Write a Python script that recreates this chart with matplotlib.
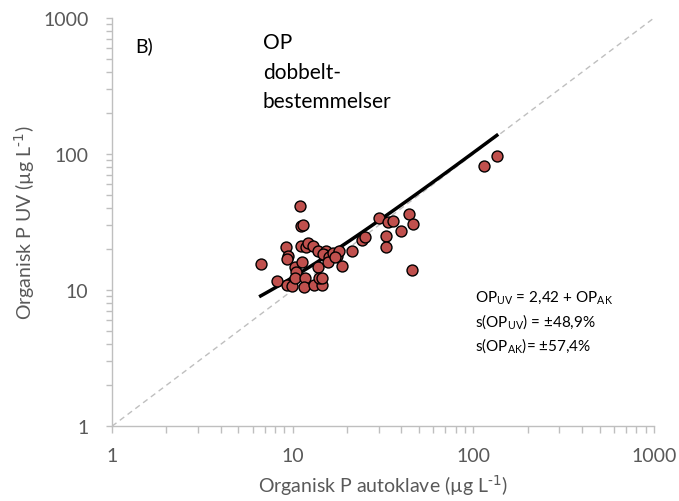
import matplotlib
matplotlib.use("Agg")
import matplotlib.pyplot as plt
from matplotlib.ticker import LogLocator, NullFormatter, FixedLocator
import numpy as np

plt.rcParams['font.family'] = ['Lato', 'DejaVu Sans']

# dobbeltbestemmelser: organisk P, autoklave (x) mot UV (y), µg/L
op_ak = [10.97, 11.1, 11.45, 9.15, 9.46, 9.3, 6.65, 8.22, 9.26, 9.87,
         10.34, 10.43, 10.34, 11.3, 11.7, 11.6, 11.1, 11.85, 12.1, 12.9,
         13.75, 13.9, 13.1, 14.5, 14.0, 14.5, 15.3, 15.1, 14.7, 15.9,
         15.7, 16.8, 17.5, 18.0, 17.1, 18.7, 21.4, 24.3, 25.1, 30.2,
         32.7, 32.7, 33.8, 36.0, 39.7, 44.2, 46.5, 45.9, 114.5, 135.0]
op_uv = [41.3, 29.4, 30.1, 20.6, 17.9, 16.9, 15.5, 11.7, 10.9, 10.8,
         14.7, 13.5, 12.2, 16.1, 12.2, 10.6, 21.2, 20.6, 22.2, 21.2,
         19.3, 14.7, 10.9, 10.9, 12.2, 12.2, 19.5, 18.2, 18.4, 17.4,
         16.1, 18.7, 17.9, 19.3, 17.4, 15.1, 19.3, 23.4, 24.4, 34.2,
         25.1, 20.6, 31.5, 32.3, 27.3, 36.2, 30.6, 14.1, 81.6, 96.7]

offset = 2.42  # OP_UV = 2,42 + OP_AK
ticks = [1, 10, 100, 1000]
tick_labels = ['1', '10', '100', '1000']

W, H = 679, 502
fig = plt.figure(figsize=(W / 100, H / 100), dpi=100)
ax = fig.add_axes([0.165, 0.149, 0.798, 0.813])

# 1:1 linje
ax.plot([1, 1000], [1, 1000], ls=(0, (4, 3)), color='#BFBFBF', lw=1, zorder=1)

# tilpasset linje
xf = np.geomspace(min(op_ak), max(op_ak), 100)
ax.plot(xf, xf + offset, color='black', lw=2.5, zorder=2)

ax.scatter(op_ak, op_uv, s=62, facecolor='#C0504D', edgecolor='black',
           linewidth=1, zorder=3)

ax.set_xscale('log')
ax.set_yscale('log')
ax.set_xlim(1, 1000)
ax.set_ylim(1, 1000)

for axis in (ax.xaxis, ax.yaxis):
    axis.set_major_locator(FixedLocator(ticks))
    axis.set_major_formatter(plt.FixedFormatter(tick_labels))
    axis.set_minor_locator(LogLocator(base=10, subs=np.arange(2, 10)))
    axis.set_minor_formatter(NullFormatter())

for s in ('top', 'right'):
    ax.spines[s].set_visible(False)
for s in ('left', 'bottom'):
    ax.spines[s].set_color('#BFBFBF')
    ax.spines[s].set_linewidth(1)

ax.tick_params(which='both', direction='out', color='#BFBFBF', width=1,
               labelcolor='#595959', labelsize=14)
ax.tick_params(axis='x', which='both', length=5, pad=10)
ax.tick_params(axis='y', which='both', length=4, pad=13)

unit = ' (µg L$^{\\text{-1}}$)'
ax.set_xlabel('Organisk P autoklave' + unit, color='#595959',
              fontsize=14, labelpad=6)
ax.set_ylabel('Organisk P UV' + unit, color='#595959',
              fontsize=14, labelpad=4)

fig.text(135 / W, 1 - 52 / H, 'B)', fontsize=14, va='baseline')
fig.text(263 / W, 1 - 33 / H, 'OP\ndobbelt-\nbestemmelser', fontsize=15,
         va='top', ha='left', linespacing=1.6)

fig.text(475 / W, 1 - 290 / H,
         'OP$_{\\mathregular{UV}}$ = 2,42 + OP$_{\\mathregular{AK}}$\n'
         's(OP$_{\\mathregular{UV}}$) = ±48,9%\n'
         's(OP$_{\\mathregular{AK}}$)= ±57,4%',
         fontsize=11, va='top', ha='left', linespacing=1.35)

fig.savefig('out.png', dpi=100)
